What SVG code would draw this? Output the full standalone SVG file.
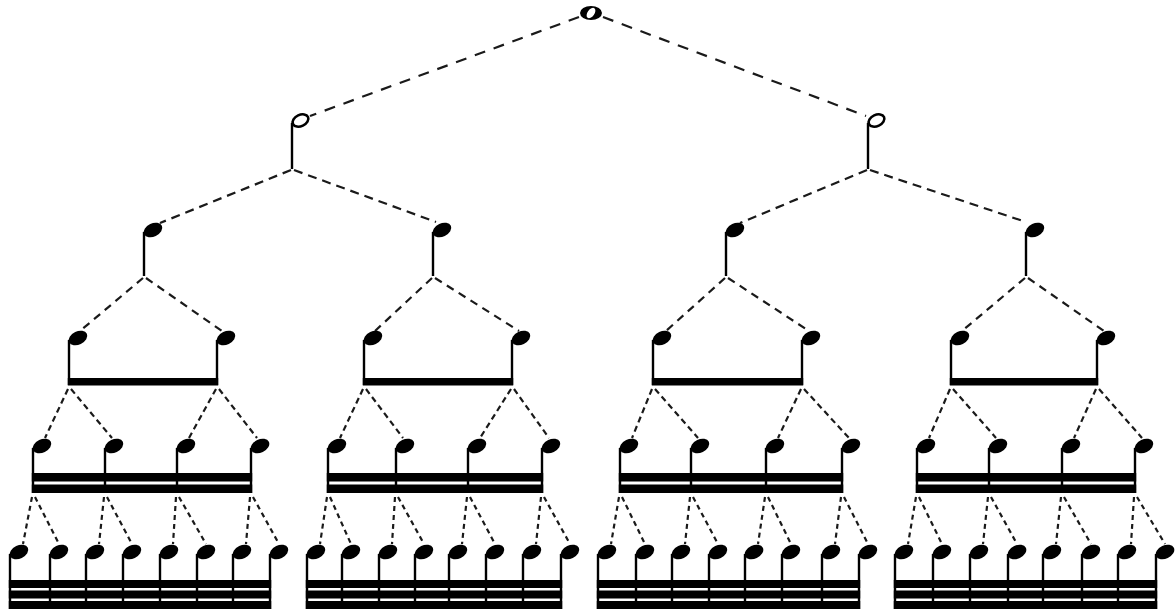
<svg xmlns="http://www.w3.org/2000/svg" xmlns:xlink="http://www.w3.org/1999/xlink" width="1176" height="613" viewBox="0 0 1176 613">
<style>
#notes line{stroke:#000;stroke-width:2.4}
.beam{fill:#000}
#connectors path{fill:none;stroke:#1a1a1a;stroke-width:2.2}
.d0{stroke-dasharray:11 9}
.d1{stroke-dasharray:9 6}
.d2{stroke-dasharray:8 6}
.d3{stroke-dasharray:6 4}
.d4{stroke-dasharray:5 4}
</style>
<defs>
<ellipse id="qh" cx="9" cy="0" rx="9.8" ry="6.6" transform="rotate(-25 9 0)" fill="#000"/>
<ellipse id="hh" cx="8.5" cy="-0.5" rx="8.3" ry="5.6" transform="rotate(-25 8.5 -0.5)" fill="#fff" stroke="#000" stroke-width="2.6"/>
</defs>
<rect width="1176" height="613" fill="#fff"/>
<g id="connectors">
<path class="d0" d="M579 17L310 116M603 17L866 116"/>
<path class="d1" d="M291 170L160 223M294 170L436 222M867 170L740 223M870 170L1026 222"/>
<path class="d2" d="M143 278L80 331M146 278L222 331M432 278L375 331M435 278L519 331M725 278L666 331M728 278L809 331M1025 278L962 331M1028 278L1104 331"/>
<path class="d3" d="M68 389L45 438M71 389L112 438M216 389L189 438M219 389L257 438M363 389L340 438M366 389L403 438M511 389L480 438M514 389L549 438M652 389L632 438M655 389L698 438M801 389L778 438M804 389L849 438M950 389L929 438M953 389L996 438M1096 389L1074 438M1099 389L1142 438"/>
<path class="d4" d="M32 497L23 544M35 497L59 544M104 497L99 544M107 497L132 544M176 497L173 544M179 497L206 544M250 497L246 544M253 497L279 544M327 497L320 544M330 497L351 544M395 497L392 544M398 497L424 544M467 497L462 544M470 497L495 544M541 497L536 544M544 497L570 544M619 497L611 544M622 497L645 544M690 497L685 544M693 497L718 544M765 497L758 544M768 497L791 544M841 497L835 544M844 497L868 544M916 497L908 544M919 497L942 544M988 497L983 544M991 497L1017 544M1061 497L1056 544M1064 497L1091 544M1134 497L1131 544M1137 497L1165 544"/>
</g>
<g id="beams">
<rect class="beam" x="67.8" y="378" width="150.4" height="7.5"/>
<rect class="beam" x="362.8" y="378" width="150.4" height="7.5"/>
<rect class="beam" x="651.8" y="378" width="151.4" height="7.5"/>
<rect class="beam" x="949.8" y="378" width="148.4" height="7.5"/>
<rect class="beam" x="31.8" y="473" width="220.4" height="8.5"/>
<rect class="beam" x="31.8" y="484.5" width="220.4" height="8.5"/>
<rect class="beam" x="326.8" y="473" width="216.4" height="8.5"/>
<rect class="beam" x="326.8" y="484.5" width="216.4" height="8.5"/>
<rect class="beam" x="618.8" y="473" width="224.4" height="8.5"/>
<rect class="beam" x="618.8" y="484.5" width="224.4" height="8.5"/>
<rect class="beam" x="915.8" y="473" width="220.4" height="8.5"/>
<rect class="beam" x="915.8" y="484.5" width="220.4" height="8.5"/>
<rect class="beam" x="8.8" y="580" width="262.4" height="8"/>
<rect class="beam" x="8.8" y="590.5" width="262.4" height="8"/>
<rect class="beam" x="8.8" y="601" width="262.4" height="8"/>
<rect class="beam" x="305.8" y="580" width="256.4" height="8"/>
<rect class="beam" x="305.8" y="590.5" width="256.4" height="8"/>
<rect class="beam" x="305.8" y="601" width="256.4" height="8"/>
<rect class="beam" x="596.8" y="580" width="263.4" height="8"/>
<rect class="beam" x="596.8" y="590.5" width="263.4" height="8"/>
<rect class="beam" x="596.8" y="601" width="263.4" height="8"/>
<rect class="beam" x="893.8" y="580" width="263.4" height="8"/>
<rect class="beam" x="893.8" y="590.5" width="263.4" height="8"/>
<rect class="beam" x="893.8" y="601" width="263.4" height="8"/>
</g>
<g id="notes">
<g id="n0"><path d="M580 13A11 7 0 1 0 602 13A11 7 0 1 0 580 13ZM594.4 8.2A5.8 3.4 -55 1 0 587.6 17.8A5.8 3.4 -55 1 0 594.4 8.2Z" fill="#000" fill-rule="evenodd"/></g>
<g id="n1-1"><use xlink:href="#hh" x="292" y="121"/><line x1="292" y1="123" x2="292" y2="169"/></g>
<g id="n1-2"><use xlink:href="#hh" x="868" y="121"/><line x1="868" y1="123" x2="868" y2="169"/></g>
<g id="n2-1"><use xlink:href="#qh" x="144" y="230"/><line x1="144" y1="232" x2="144" y2="276"/></g>
<g id="n2-2"><use xlink:href="#qh" x="433" y="230"/><line x1="433" y1="232" x2="433" y2="276"/></g>
<g id="n2-3"><use xlink:href="#qh" x="726" y="230"/><line x1="726" y1="232" x2="726" y2="276"/></g>
<g id="n2-4"><use xlink:href="#qh" x="1026" y="230"/><line x1="1026" y1="232" x2="1026" y2="276"/></g>
<g id="n3-1"><use xlink:href="#qh" x="69" y="338"/><line x1="69" y1="340" x2="69" y2="385"/></g>
<g id="n3-2"><use xlink:href="#qh" x="217" y="338"/><line x1="217" y1="340" x2="217" y2="385"/></g>
<g id="n3-3"><use xlink:href="#qh" x="364" y="338"/><line x1="364" y1="340" x2="364" y2="385"/></g>
<g id="n3-4"><use xlink:href="#qh" x="512" y="338"/><line x1="512" y1="340" x2="512" y2="385"/></g>
<g id="n3-5"><use xlink:href="#qh" x="653" y="338"/><line x1="653" y1="340" x2="653" y2="385"/></g>
<g id="n3-6"><use xlink:href="#qh" x="802" y="338"/><line x1="802" y1="340" x2="802" y2="385"/></g>
<g id="n3-7"><use xlink:href="#qh" x="951" y="338"/><line x1="951" y1="340" x2="951" y2="385"/></g>
<g id="n3-8"><use xlink:href="#qh" x="1097" y="338"/><line x1="1097" y1="340" x2="1097" y2="385"/></g>
<g id="n4-01"><use xlink:href="#qh" x="33" y="446"/><line x1="33" y1="448" x2="33" y2="493"/></g>
<g id="n4-02"><use xlink:href="#qh" x="105" y="446"/><line x1="105" y1="448" x2="105" y2="493"/></g>
<g id="n4-03"><use xlink:href="#qh" x="177" y="446"/><line x1="177" y1="448" x2="177" y2="493"/></g>
<g id="n4-04"><use xlink:href="#qh" x="251" y="446"/><line x1="251" y1="448" x2="251" y2="493"/></g>
<g id="n4-05"><use xlink:href="#qh" x="328" y="446"/><line x1="328" y1="448" x2="328" y2="493"/></g>
<g id="n4-06"><use xlink:href="#qh" x="396" y="446"/><line x1="396" y1="448" x2="396" y2="493"/></g>
<g id="n4-07"><use xlink:href="#qh" x="468" y="446"/><line x1="468" y1="448" x2="468" y2="493"/></g>
<g id="n4-08"><use xlink:href="#qh" x="542" y="446"/><line x1="542" y1="448" x2="542" y2="493"/></g>
<g id="n4-09"><use xlink:href="#qh" x="620" y="446"/><line x1="620" y1="448" x2="620" y2="493"/></g>
<g id="n4-10"><use xlink:href="#qh" x="691" y="446"/><line x1="691" y1="448" x2="691" y2="493"/></g>
<g id="n4-11"><use xlink:href="#qh" x="766" y="446"/><line x1="766" y1="448" x2="766" y2="493"/></g>
<g id="n4-12"><use xlink:href="#qh" x="842" y="446"/><line x1="842" y1="448" x2="842" y2="493"/></g>
<g id="n4-13"><use xlink:href="#qh" x="917" y="446"/><line x1="917" y1="448" x2="917" y2="493"/></g>
<g id="n4-14"><use xlink:href="#qh" x="989" y="446"/><line x1="989" y1="448" x2="989" y2="493"/></g>
<g id="n4-15"><use xlink:href="#qh" x="1062" y="446"/><line x1="1062" y1="448" x2="1062" y2="493"/></g>
<g id="n4-16"><use xlink:href="#qh" x="1135" y="446"/><line x1="1135" y1="448" x2="1135" y2="493"/></g>
<g id="n5-01"><use xlink:href="#qh" x="10" y="552"/><line x1="10" y1="554" x2="10" y2="609"/></g>
<g id="n5-02"><use xlink:href="#qh" x="50" y="552"/><line x1="50" y1="554" x2="50" y2="609"/></g>
<g id="n5-03"><use xlink:href="#qh" x="86" y="552"/><line x1="86" y1="554" x2="86" y2="609"/></g>
<g id="n5-04"><use xlink:href="#qh" x="123" y="552"/><line x1="123" y1="554" x2="123" y2="609"/></g>
<g id="n5-05"><use xlink:href="#qh" x="160" y="552"/><line x1="160" y1="554" x2="160" y2="609"/></g>
<g id="n5-06"><use xlink:href="#qh" x="197" y="552"/><line x1="197" y1="554" x2="197" y2="609"/></g>
<g id="n5-07"><use xlink:href="#qh" x="233" y="552"/><line x1="233" y1="554" x2="233" y2="609"/></g>
<g id="n5-08"><use xlink:href="#qh" x="270" y="552"/><line x1="270" y1="554" x2="270" y2="609"/></g>
<g id="n5-09"><use xlink:href="#qh" x="307" y="552"/><line x1="307" y1="554" x2="307" y2="609"/></g>
<g id="n5-10"><use xlink:href="#qh" x="342" y="552"/><line x1="342" y1="554" x2="342" y2="609"/></g>
<g id="n5-11"><use xlink:href="#qh" x="379" y="552"/><line x1="379" y1="554" x2="379" y2="609"/></g>
<g id="n5-12"><use xlink:href="#qh" x="415" y="552"/><line x1="415" y1="554" x2="415" y2="609"/></g>
<g id="n5-13"><use xlink:href="#qh" x="449" y="552"/><line x1="449" y1="554" x2="449" y2="609"/></g>
<g id="n5-14"><use xlink:href="#qh" x="486" y="552"/><line x1="486" y1="554" x2="486" y2="609"/></g>
<g id="n5-15"><use xlink:href="#qh" x="523" y="552"/><line x1="523" y1="554" x2="523" y2="609"/></g>
<g id="n5-16"><use xlink:href="#qh" x="561" y="552"/><line x1="561" y1="554" x2="561" y2="609"/></g>
<g id="n5-17"><use xlink:href="#qh" x="598" y="552"/><line x1="598" y1="554" x2="598" y2="609"/></g>
<g id="n5-18"><use xlink:href="#qh" x="636" y="552"/><line x1="636" y1="554" x2="636" y2="609"/></g>
<g id="n5-19"><use xlink:href="#qh" x="672" y="552"/><line x1="672" y1="554" x2="672" y2="609"/></g>
<g id="n5-20"><use xlink:href="#qh" x="709" y="552"/><line x1="709" y1="554" x2="709" y2="609"/></g>
<g id="n5-21"><use xlink:href="#qh" x="745" y="552"/><line x1="745" y1="554" x2="745" y2="609"/></g>
<g id="n5-22"><use xlink:href="#qh" x="782" y="552"/><line x1="782" y1="554" x2="782" y2="609"/></g>
<g id="n5-23"><use xlink:href="#qh" x="822" y="552"/><line x1="822" y1="554" x2="822" y2="609"/></g>
<g id="n5-24"><use xlink:href="#qh" x="859" y="552"/><line x1="859" y1="554" x2="859" y2="609"/></g>
<g id="n5-25"><use xlink:href="#qh" x="895" y="552"/><line x1="895" y1="554" x2="895" y2="609"/></g>
<g id="n5-26"><use xlink:href="#qh" x="933" y="552"/><line x1="933" y1="554" x2="933" y2="609"/></g>
<g id="n5-27"><use xlink:href="#qh" x="970" y="552"/><line x1="970" y1="554" x2="970" y2="609"/></g>
<g id="n5-28"><use xlink:href="#qh" x="1008" y="552"/><line x1="1008" y1="554" x2="1008" y2="609"/></g>
<g id="n5-29"><use xlink:href="#qh" x="1043" y="552"/><line x1="1043" y1="554" x2="1043" y2="609"/></g>
<g id="n5-30"><use xlink:href="#qh" x="1082" y="552"/><line x1="1082" y1="554" x2="1082" y2="609"/></g>
<g id="n5-31"><use xlink:href="#qh" x="1118" y="552"/><line x1="1118" y1="554" x2="1118" y2="609"/></g>
<g id="n5-32"><use xlink:href="#qh" x="1156" y="552"/><line x1="1156" y1="554" x2="1156" y2="609"/></g>
</g>
</svg>
